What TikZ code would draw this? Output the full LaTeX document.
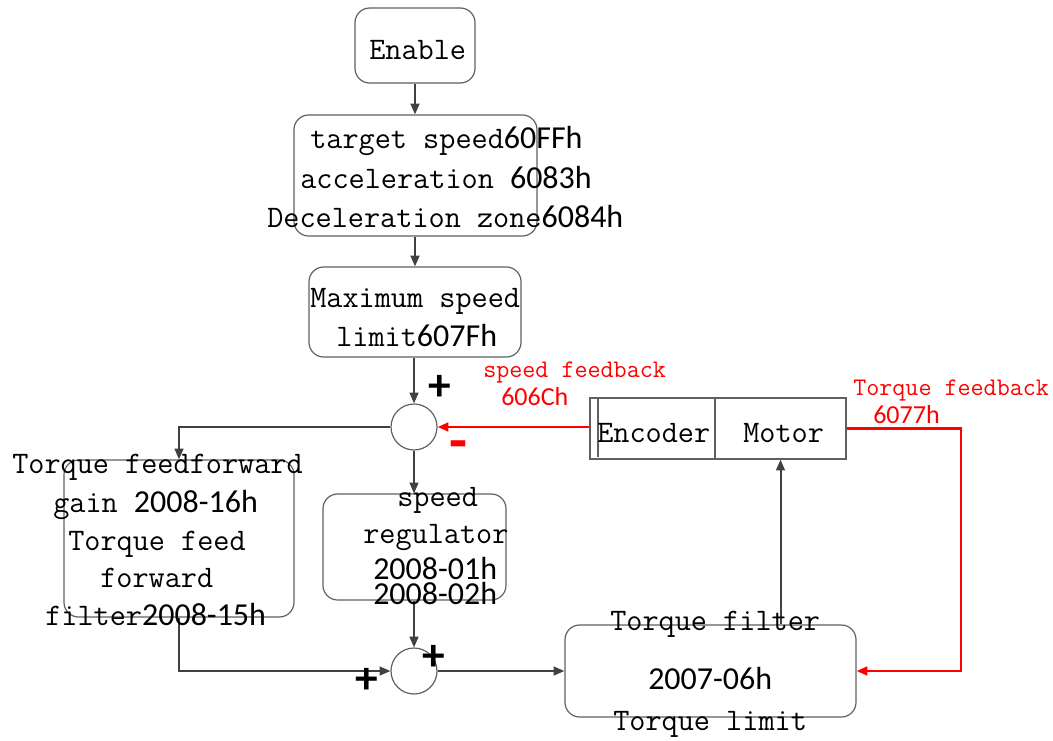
\documentclass[tikz,border=0pt]{standalone}
\usepackage{fontspec}
\newfontfamily\numfam{Carlito}
\newcommand\numtxt[1]{{\numfam\fontsize{24}{26}\selectfont #1}}
\usetikzlibrary{arrows.meta}
\definecolor{boxgray}{HTML}{606060}
\definecolor{linegray}{HTML}{404040}
\tikzset{
 box/.style={draw=boxgray, line width=0.9pt, rounded corners=11pt, inner sep=0pt},
 sq/.style={draw=boxgray, line width=0.9pt, inner sep=0pt},
 sumnode/.style={circle, draw=boxgray, line width=0.9pt, minimum size=34.5pt, inner sep=0pt},
 txt/.style={inner sep=0pt, anchor=base west, font=\ttfamily\fontsize{23.5}{25}\selectfont},
 rtxt/.style={inner sep=0pt, anchor=base west, text=red, font=\ttfamily\fontsize{19}{21}\selectfont},
 rnum/.style={inner sep=0pt, anchor=base west, text=red, font=\numfam\fontsize{19.5}{21}\selectfont},
 sign/.style={inner sep=0pt, font=\numfam\bfseries\fontsize{34}{36}\selectfont},
 conn/.style={draw=linegray, line width=1.5pt, -{Triangle[length=8pt,width=6.5pt]}},
 rconn/.style={draw=red, line width=1.8pt, -{Triangle[length=8pt,width=6.5pt]}},
}
\begin{document}
\begin{tikzpicture}[x=0.75pt,y=-0.75pt]
\useasboundingbox (0,0) rectangle (1053,740);
% boxes
\node[box, minimum width=90pt, minimum height=56.25pt] (enable) at (415,45.5) {};
\node[box, minimum width=182.25pt, minimum height=90.75pt] (target) at (415.5,175.5) {};
\node[box, minimum width=159pt, minimum height=67.5pt] (maxs) at (415,312) {};
\node[sumnode] (sum1) at (414,427) {};
\node[sq, minimum width=93.75pt, minimum height=45.75pt] (enc) at (652.5,428.5) {};
\node[sq, minimum width=98.25pt, minimum height=45.75pt] (motor) at (780.5,428.5) {};
\draw[draw=boxgray, line width=0.9pt] (598,397) -- (598,457);
\node[box, minimum width=172.5pt, minimum height=117.75pt] (ff) at (179,538.5) {};
\node[box, minimum width=137.25pt, minimum height=79.5pt] (reg) at (414.5,547) {};
\node[sumnode] (sum2) at (414,671) {};
\node[box, minimum width=218.25pt, minimum height=69pt] (torque) at (710.5,671) {};
\coordinate (tfx) at (961,0);
% connectors
\draw[conn] (enable.south) -- (enable.south |- target.north);
\draw[conn] (target.south -| enable.south) -- (enable.south |- maxs.north);
\draw[conn] (maxs.south -| sum1.north) -- (sum1.north);
\draw[rconn] (enc.west |- sum1.east) -- (sum1.east);
\draw[conn] (sum1.west) -| (ff.north);
\draw[conn] (sum1.south) -- (sum1.south |- reg.north);
\draw[conn] (reg.south -| sum2.north) -- (sum2.north);
\draw[conn] (ff.south) |- (sum2.west);
\draw[conn] (sum2.east) -- (torque.west);
\draw[conn] (motor.south |- torque.north) -- (motor.south);
\draw[rconn] (motor.east) -- (motor.east -| tfx) |- (torque.east);
% texts
\node[txt] (t1) at (369,59) {Enable};
\node[txt] (t2) at (310,148) {target speed\numtxt{60FFh}};
\node[txt] (t3) at (300,188) {acceleration \numtxt{6083h}};
\node[txt] (t4) at (267,227) {Deceleration zone\numtxt{6084h}};
\node[txt] (t5) at (310,307) {Maximum speed};
\node[txt] (t6) at (336,346) {limit\numtxt{607Fh}};
\node[rtxt] (t7) at (483,377) {speed feedback};
\node[rnum] (t8) at (501,405) {606Ch};
\node[rtxt] (t9) at (853,395) {Torque feedback};
\node[rnum] (t10) at (873,423) {6077h};
\node[txt] (t11) at (597,442) {Encoder};
\node[txt] (t12) at (743,442) {Motor};
\node[sign] (p1) at (440,388) {+};
\node[sign, text=red, font=\numfam\bfseries\fontsize{44}{46}\selectfont] (m1) at (458,451) {-};
\node[txt] (t13) at (12,473) {Torque feedforward};
\node[txt] (t14) at (53,512) {gain \numtxt{2008-16h}};
\node[txt] (t15) at (68,550) {Torque feed};
\node[txt] (t16) at (100,587) {forward};
\node[txt] (t17) at (45,625) {filter\numtxt{2008-15h}};
\node[txt] (t18) at (397,506) {speed};
\node[txt] (t19) at (363,543) {regulator};
\node[txt] (t20) at (373,579) {\numtxt{2008-01h}};
\node[txt] (t21) at (373,604) {\numtxt{2008-02h}};
\node[sign] (p2) at (434,658) {+};
\node[sign] (p3) at (367,681) {+};
\node[txt] (t22) at (610,630) {Torque filter};
\node[txt] (t23) at (648,689) {\numtxt{2007-06h}};
\node[txt] (t24) at (613,730) {Torque limit};
\end{tikzpicture}
\end{document}
